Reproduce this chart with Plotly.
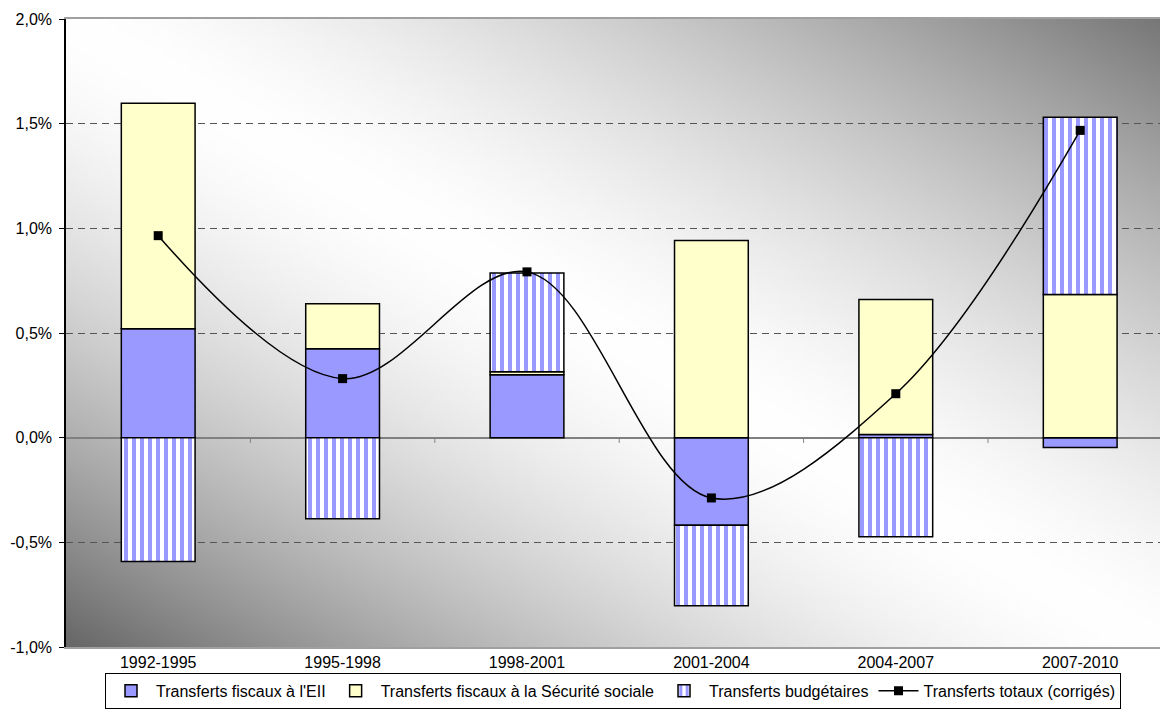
import base64
import struct
import zlib

import numpy as np
import plotly.graph_objects as go

# ---------------- data ----------------
categories = ["1992-1995", "1995-1998", "1998-2001", "2001-2004", "2004-2007", "2007-2010"]
fiscaux_eii = [0.52, 0.425, 0.30, -0.418, 0.015, -0.047]
fiscaux_secu = [1.077, 0.215, 0.015, 0.942, 0.645, 0.684]
budgetaires = [-0.592, -0.387, 0.472, -0.385, -0.473, 0.847]
totaux = [0.965, 0.282, 0.792, -0.288, 0.210, 1.468]

ytick_vals = [-1.0, -0.5, 0.0, 0.5, 1.0, 1.5, 2.0]
ytick_text = ["-1,0%", "-0,5%", "0,0%", "0,5%", "1,0%", "1,5%", "2,0%"]

names = [
    "Transferts fiscaux à l'EII",
    "Transferts fiscaux à la Sécurité sociale",
    "Transferts budgétaires",
    "Transferts totaux (corrigés)",
]

# ---------------- background gradient (styling only) ----------------
def gradient_png(w=320, h=184):
    u = (np.arange(w) + 0.5) / w
    v = (np.arange(h) + 0.5) / h
    U, V = np.meshgrid(u, v)
    s = U - V
    b = np.where(
        s >= 0,
        255 - 136 * np.abs(s) ** 1.5,
        255 - 153 * np.abs(s) ** 1.58,
    )
    b = np.clip(b, 0, 255).astype(np.uint8)
    arr = np.stack([b, b, b], axis=-1)
    raw = b"".join(b"\x00" + arr[i].tobytes() for i in range(h))

    def chunk(t, d):
        c = struct.pack(">I", len(d)) + t + d
        return c + struct.pack(">I", zlib.crc32(t + d) & 0xFFFFFFFF)

    png = (
        b"\x89PNG\r\n\x1a\n"
        + chunk(b"IHDR", struct.pack(">IIBBBBB", w, h, 8, 2, 0, 0, 0))
        + chunk(b"IDAT", zlib.compress(raw, 9))
        + chunk(b"IEND", b"")
    )
    return "data:image/png;base64," + base64.b64encode(png).decode()


x = list(range(len(categories)))
BLUE = "#9999FF"
YELLOW = "#FFFFCC"

fig = go.Figure()
fig.add_trace(go.Bar(
    x=x, y=fiscaux_eii, name=names[0], width=0.4,
    marker=dict(color=BLUE, line=dict(color="black", width=1.5)),
))
fig.add_trace(go.Bar(
    x=x, y=fiscaux_secu, name=names[1], width=0.4,
    marker=dict(color=YELLOW, line=dict(color="black", width=1.5)),
))
fig.add_trace(go.Bar(
    x=x, y=budgetaires, name=names[2], width=0.4,
    marker=dict(
        color="white", line=dict(color="black", width=1.5),
        pattern=dict(shape="|", fgcolor=BLUE, bgcolor="white", size=8,
                     solidity=0.5, fgopacity=1),
    ),
))
fig.add_trace(go.Scatter(
    x=x, y=totaux, name=names[3], mode="lines+markers",
    line=dict(color="black", width=1.5, shape="spline", smoothing=1),
    marker=dict(symbol="square", size=9, color="black"),
))

# small category-boundary ticks on the zero axis
shapes = []
for i in range(len(categories) - 1):
    shapes.append(dict(type="line", xref="x", yref="y", x0=i + 0.5, x1=i + 0.5,
                       y0=0, y1=-0.025, line=dict(color="#808080", width=1)))

fig.update_layout(
    width=1160, height=719,
    margin=dict(l=66, r=0, t=19, b=72),
    paper_bgcolor="white",
    plot_bgcolor="rgba(0,0,0,0)",
    barmode="relative",
    font=dict(family="Liberation Sans, Arial, sans-serif", color="black", size=16),
    images=[dict(source=gradient_png(), xref="paper", yref="paper", x=0, y=1,
                 sizex=1, sizey=1, sizing="stretch", xanchor="left", yanchor="top",
                 layer="below")],
    shapes=shapes,
    showlegend=True,
    legend=dict(
        orientation="h", x=0.5, xanchor="center", y=-0.041, yanchor="top",
        bordercolor="black", borderwidth=1, bgcolor="white",
        font=dict(size=16), traceorder="normal", itemwidth=40,
    ),
)
fig.update_xaxes(
    range=[-0.5, -0.5 + 1094 / 184.4],
    tickvals=x, ticktext=categories,
    showgrid=False, zeroline=False,
    showline=True, mirror=True, linecolor="#a0a0a0", linewidth=2,
    ticks="", tickfont=dict(size=16), ticklabelstandoff=0,
)
fig.update_yaxes(
    range=[-1.0, 2.0],
    tickvals=ytick_vals, ticktext=ytick_text,
    showgrid=True, gridcolor="#555555", griddash="7px,5px", gridwidth=1,
    zeroline=True, zerolinecolor="#808080", zerolinewidth=1.5,
    showline=True, linecolor="black", linewidth=1.5,
    ticks="outside", ticklen=5, tickcolor="black", tickwidth=1,
    tickfont=dict(size=16), ticklabelstandoff=4,
)

fig.write_html("out.html")
